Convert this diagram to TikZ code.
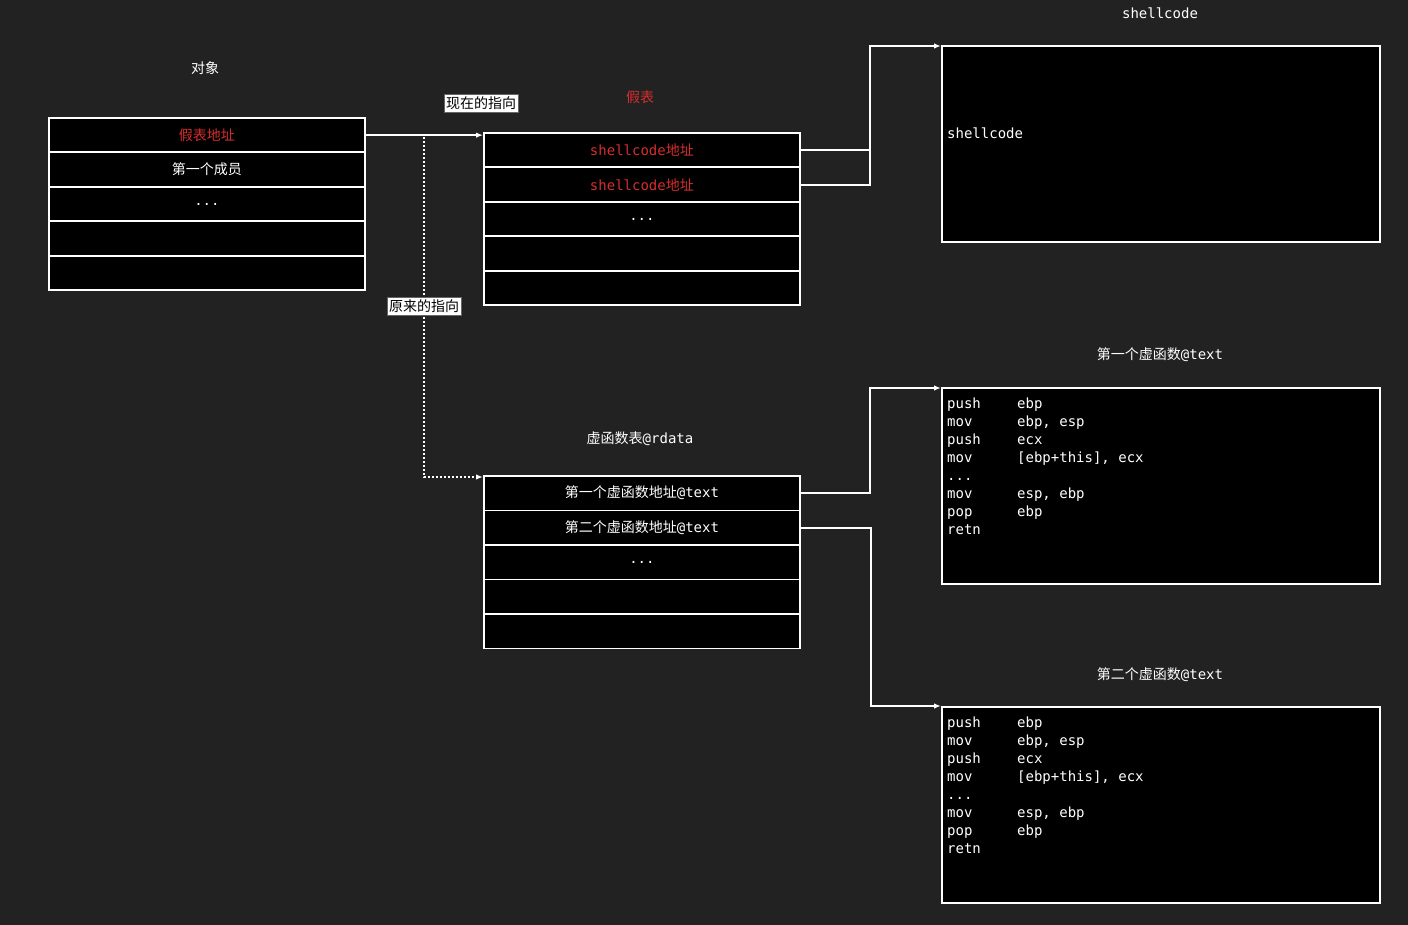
\documentclass[tikz,border=0pt]{standalone}
\usepackage{fontspec}
\setmainfont{DejaVu Sans Mono}
\newfontfamily\cjk{Noto Sans CJK SC}
\usetikzlibrary{arrows.meta,calc}
\definecolor{bg}{RGB}{34,34,34}
\definecolor{warn}{RGB}{214,46,46}

\tikzset{
  x=1pt, y=-1pt,
  cell/.style={draw=white, fill=black, line width=1.8pt, minimum width=316pt,
    minimum height=34.5pt, anchor=north west, inner sep=0pt, text=white,
    font=\fontsize{14}{16}\selectfont},
  panel/.style={draw=white, fill=black, line width=1.8pt, minimum width=438pt,
    minimum height=196pt, anchor=north west, inner sep=0pt},
  title/.style={text=white, inner sep=0pt, font=\fontsize{14}{16}\selectfont},
  tag/.style={fill=white, draw=black!60, line width=0.4pt, text=black,
    inner xsep=2pt, inner ysep=2.5pt, font=\cjk\fontsize{14}{15}\selectfont},
  code/.style={anchor=north west, inner sep=0pt, text=white,
    font=\fontsize{14}{18}\selectfont},
  link/.style={draw=white, line width=1.8pt},
  tip/.style={-{Latex[length=7pt,width=5.5pt]}},
  olddash/.style={draw=white, line width=1.8pt, dash pattern=on 2pt off 2pt},
}

\newcommand{\asm}{%
  \begin{tabular}{@{}p{70pt}@{}l@{}}
  push & ebp\\
  mov  & ebp, esp\\
  push & ecx\\
  mov  & [ebp+this], ecx\\
  ...  & \\
  mov  & esp, ebp\\
  pop  & ebp\\
  retn & \\
  \end{tabular}}

\begin{document}
\begin{tikzpicture}
  \fill[bg] (0,0) rectangle (1408,925);
  \useasboundingbox (0,0) rectangle (1408,925);

  % object layout
  \node[title] (objT) at (205,68) {\cjk 对象};
  \node[cell] (o1) at (48,117)   {\cjk\color{warn}假表地址};
  \node[cell] (o2) at (48,151.5) {\cjk 第一个成员};
  \node[cell] (o3) at (48,186)   {...};
  \node[cell] (o4) at (48,220.5) {};
  \node[cell] (o5) at (48,255)   {};

  % fake vtable
  \node[title, text=warn] (fakeT) at (640,97) {\cjk 假表};
  \node[cell] (f1) at (483,132)   {\color{warn}shellcode{\cjk 地址}};
  \node[cell] (f2) at (483,166.5) {\color{warn}shellcode{\cjk 地址}};
  \node[cell] (f3) at (483,201)   {...};
  \node[cell] (f4) at (483,235.5) {};
  \node[cell] (f5) at (483,270)   {};

  % original vtable
  \node[title] (vT) at (640,439) {{\cjk 虚函数表}@rdata};
  \node[cell] (v1) at (483,475)   {{\cjk 第一个虚函数地址}@text};
  \node[cell] (v2) at (483,509.5) {{\cjk 第二个虚函数地址}@text};
  \node[cell] (v3) at (483,544)   {...};
  \node[cell] (v4) at (483,578.5) {};
  \node[cell] (v5) at (483,613)   {};

  % shellcode
  \node[title] (scT) at (1160,13) {shellcode};
  \node[panel] (sc) at (941,45) {};
  \node[code, anchor=west] (scText) at (947,133) {shellcode};

  % first virtual function
  \node[title] (fn1T) at (1160,355) {{\cjk 第一个虚函数}@text};
  \node[panel] (fn1) at (941,387) {};
  \node[code] (fn1Code) at (947,396) {\asm};

  % second virtual function
  \node[title] (fn2T) at (1160,675) {{\cjk 第二个虚函数}@text};
  \node[panel] (fn2) at (941,706) {};
  \node[code] (fn2Code) at (947,715) {\asm};

  % pointers from the object
  \coordinate (split) at (424,134);
  \draw[olddash, tip] (o1.east) -- (o1.east -| split) |- ([yshift=-2pt]v1.north west);
  \draw[link, tip] (o1.east) -- (o1.east -| f1.west);
  \node[tag] (nowTag) at (481,103) {现在的指向};
  \node[tag] (oldTag) at (424,306) {原来的指向};

  % fake table entries into the shellcode
  \coordinate (j1) at (870,150);
  \draw[link, tip] (f1.east) -- (f1.east -| j1) |- ([yshift=-1pt]sc.north west);
  \draw[link] (f2.east) -| (j1);

  % real table entries into the functions
  \coordinate (j2) at (870,492);
  \coordinate (j3) at (871,526);
  \draw[link, tip] (v1.east) -- (v1.east -| j2) |- ([yshift=-1pt]fn1.north west);
  \draw[link, tip] (v2.east) -- (v2.east -| j3) |- (fn2.north west);
\end{tikzpicture}
\end{document}
